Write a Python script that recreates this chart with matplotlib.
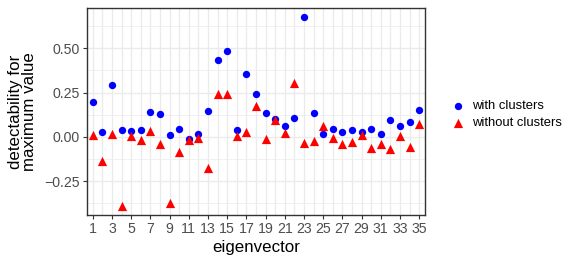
import numpy as np
import matplotlib.pyplot as plt

plt.rcParams['font.family'] = ['Liberation Sans', 'DejaVu Sans']

eigenvector = list(range(1, 36))
with_clusters = [0.199, 0.027, 0.294, 0.038, 0.032, 0.040, 0.142, 0.127, 0.013, 0.045,
                 -0.011, 0.015, 0.144, 0.434, 0.483, 0.038, 0.354, 0.244, 0.135, 0.100,
                 0.061, 0.106, 0.674, 0.136, 0.015, 0.042, 0.028, 0.038, 0.028, 0.044,
                 0.017, 0.093, 0.063, 0.085, 0.152]
without_clusters = [0.008, -0.136, 0.015, -0.388, 0.002, -0.017, 0.032, -0.042, -0.373, -0.083,
                    -0.019, -0.006, -0.178, 0.242, 0.244, 0.004, 0.025, 0.174, -0.010, 0.097,
                    0.019, 0.305, -0.032, -0.021, 0.059, -0.008, -0.040, -0.027, 0.009, -0.061,
                    -0.042, -0.066, 0.006, -0.055, 0.075]
y_ticks = [-0.25, 0.0, 0.25, 0.50]

fig = plt.figure(figsize=(5.81, 2.64), dpi=100)
ax = fig.add_axes([87 / 581, 1 - 215 / 264, (425 - 87) / 581, (215 - 8) / 264])

ax.scatter(eigenvector, with_clusters, color='#0000FF', marker='o', s=28, lw=0,
           label='with clusters', zorder=3)
ax.scatter(eigenvector, without_clusters, color='#FF0000', marker='^', s=44, lw=0,
           label='without clusters', zorder=3)

lo = min(min(with_clusters), min(without_clusters))
hi = max(max(with_clusters), max(without_clusters))
pad = 0.05 * (hi - lo)
ax.set_xlim(0.4, 35.6)
ax.set_ylim(lo - pad, hi + pad)

ax.set_xticks(eigenvector, minor=True)
ax.set_xticks(eigenvector[::2])
ax.set_yticks(y_ticks)
ax.set_yticklabels(['\u22120.25', '0.00', '0.25', '0.50'])
ax.set_yticks(np.arange(-0.375, 0.7, 0.25), minor=True)

ax.grid(which='major', color='#EBEBEB', lw=1.0, zorder=0)
ax.grid(which='minor', axis='y', color='#EBEBEB', lw=0.5, zorder=0)
ax.grid(which='minor', axis='x', color='#EBEBEB', lw=1.0, zorder=0)
ax.set_axisbelow(True)
for s in ax.spines.values():
    s.set_color('#333333')
    s.set_linewidth(1.0)
ax.tick_params(which='major', length=3, width=0.8, color='#333333',
               labelcolor='#4D4D4D', labelsize=10.2, pad=2)
ax.tick_params(which='minor', length=0)

ax.set_xlabel('eigenvector', fontsize=12.2, labelpad=3)
ax.set_ylabel('detectability for\nmaximum value', fontsize=12.2, labelpad=5, linespacing=0.95)

ax.legend(loc='center left', bbox_to_anchor=(1.055, 0.485), frameon=False, fontsize=9.4,
          handletextpad=0.5, labelspacing=0.38, borderpad=0, handlelength=1.2)

fig.savefig('out.png', dpi=100)
